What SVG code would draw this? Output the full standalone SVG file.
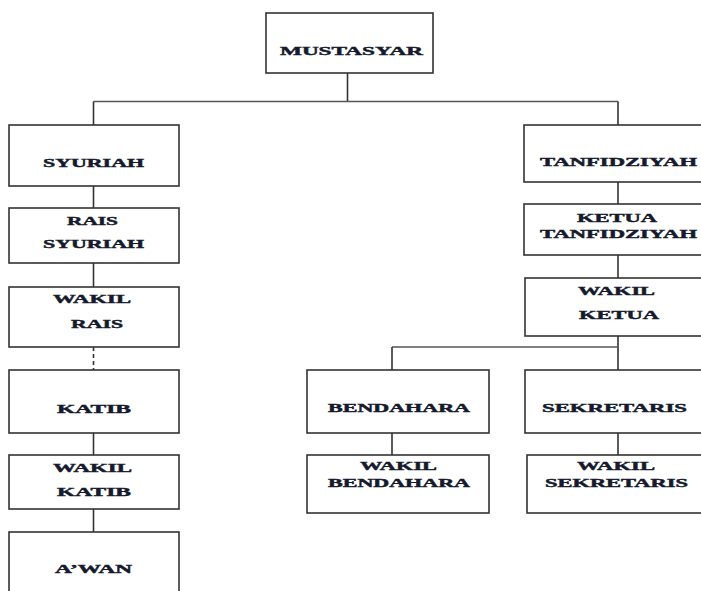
<svg xmlns="http://www.w3.org/2000/svg" width="701" height="591" viewBox="0 0 701 591">
<style>
rect{fill:#fff;stroke:#333;stroke-width:1.6}
text{font-family:"Liberation Serif","Times New Roman",serif;font-weight:bold;font-size:12.5px;fill:#151a2c;stroke:#151a2c;stroke-width:0.45;text-anchor:middle}
.c line{stroke:#333;stroke-width:1.6}
.c .h{stroke:#555}
</style>
<rect x="0" y="0" width="701" height="591" style="fill:#fff;stroke:none"/>
<g class="c" id="connectors">
<line x1="347.5" y1="73" x2="347.5" y2="101.5"/>
<line class="h" x1="93.5" y1="101.5" x2="618" y2="101.5"/>
<line x1="93.5" y1="101.5" x2="93.5" y2="125"/>
<line x1="618" y1="101.5" x2="618" y2="125"/>
<line x1="93.5" y1="186" x2="93.5" y2="208"/>
<line x1="93.5" y1="263" x2="93.5" y2="287"/>
<line x1="93.5" y1="347" x2="93.5" y2="370" stroke-dasharray="4,3"/>
<line x1="93.5" y1="433" x2="93.5" y2="455"/>
<line x1="93.5" y1="509" x2="93.5" y2="532"/>
<line x1="618" y1="182" x2="618" y2="204"/>
<line x1="618" y1="255" x2="618" y2="278"/>
<line x1="618" y1="336" x2="618" y2="370"/>
<line class="h" x1="392" y1="347" x2="618" y2="347"/>
<line x1="392" y1="347" x2="392" y2="370"/>
<line x1="392" y1="433" x2="392" y2="455"/>
<line x1="618" y1="433" x2="618" y2="455"/>
</g>
<g id="mustasyar"><rect x="266" y="13" width="167" height="60"/><text x="351.5" y="55" textLength="143" lengthAdjust="spacingAndGlyphs">MUSTASYAR</text></g>
<g id="syuriah"><rect x="9" y="125" width="170" height="61"/><text x="93.5" y="167" textLength="101" lengthAdjust="spacingAndGlyphs">SYURIAH</text></g>
<g id="rais-syuriah"><rect x="9" y="208" width="170" height="55"/><text x="92.5" y="225" textLength="51" lengthAdjust="spacingAndGlyphs">RAIS</text><text x="93.5" y="248" textLength="101" lengthAdjust="spacingAndGlyphs">SYURIAH</text></g>
<g id="wakil-rais"><rect x="9" y="287" width="170" height="60"/><text x="92" y="303" textLength="78" lengthAdjust="spacingAndGlyphs">WAKIL</text><text x="97" y="328" textLength="52" lengthAdjust="spacingAndGlyphs">RAIS</text></g>
<g id="katib"><rect x="9" y="370" width="170" height="63"/><text x="94" y="413" textLength="74" lengthAdjust="spacingAndGlyphs">KATIB</text></g>
<g id="wakil-katib"><rect x="9" y="455" width="170" height="54"/><text x="92.5" y="472" textLength="79" lengthAdjust="spacingAndGlyphs">WAKIL</text><text x="94" y="496" textLength="74" lengthAdjust="spacingAndGlyphs">KATIB</text></g>
<g id="awan"><rect x="9" y="532" width="170" height="70"/><text x="93.5" y="573" textLength="77" lengthAdjust="spacingAndGlyphs">A’WAN</text></g>
<g id="tanfidziyah"><rect x="524" y="125" width="190" height="57"/><text x="618.5" y="166" textLength="157" lengthAdjust="spacingAndGlyphs">TANFIDZIYAH</text></g>
<g id="ketua-tanfidziyah"><rect x="524" y="204" width="190" height="51"/><text x="617" y="222" textLength="80" lengthAdjust="spacingAndGlyphs">KETUA</text><text x="618.5" y="238" textLength="157" lengthAdjust="spacingAndGlyphs">TANFIDZIYAH</text></g>
<g id="wakil-ketua"><rect x="525" y="278" width="190" height="58"/><text x="616.5" y="295" textLength="77" lengthAdjust="spacingAndGlyphs">WAKIL</text><text x="619" y="319" textLength="80" lengthAdjust="spacingAndGlyphs">KETUA</text></g>
<g id="bendahara"><rect x="307" y="370" width="182" height="63"/><text x="399" y="412" textLength="142" lengthAdjust="spacingAndGlyphs">BENDAHARA</text></g>
<g id="wakil-bendahara"><rect x="307" y="455" width="182" height="58"/><text x="398.5" y="470" textLength="77" lengthAdjust="spacingAndGlyphs">WAKIL</text><text x="399" y="487" textLength="142" lengthAdjust="spacingAndGlyphs">BENDAHARA</text></g>
<g id="sekretaris"><rect x="525" y="370" width="190" height="63"/><text x="614.5" y="412" textLength="145" lengthAdjust="spacingAndGlyphs">SEKRETARIS</text></g>
<g id="wakil-sekretaris"><rect x="527" y="455" width="190" height="58"/><text x="616" y="470" textLength="78" lengthAdjust="spacingAndGlyphs">WAKIL</text><text x="616.5" y="487" textLength="143" lengthAdjust="spacingAndGlyphs">SEKRETARIS</text></g>
</svg>
